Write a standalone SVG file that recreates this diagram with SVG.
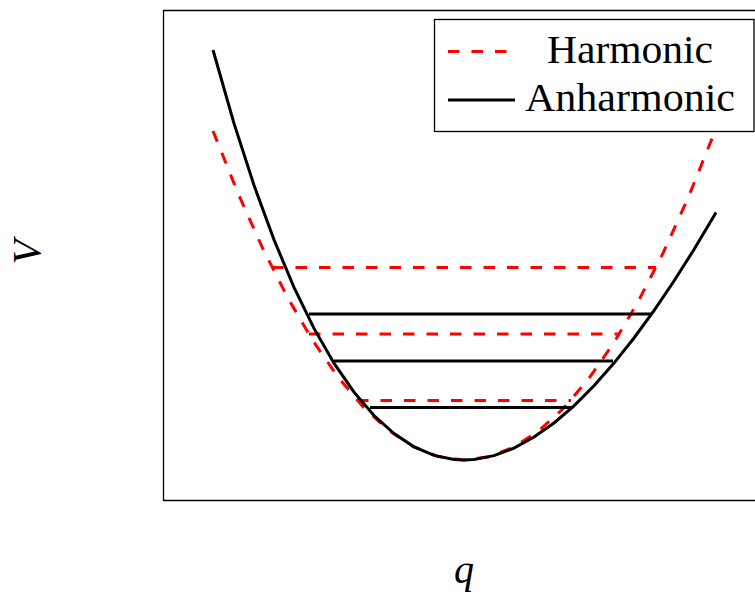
<svg xmlns="http://www.w3.org/2000/svg" width="755" height="599" viewBox="0 0 755 599">
<style>
.harm{fill:none;stroke:#ff0000;stroke-width:3;stroke-dasharray:11.5 12}
.anh{fill:none;stroke:#000;stroke-width:3}
.frame{fill:none;stroke:#000;stroke-width:1.3}
.lbl{font-family:'Liberation Serif','DejaVu Serif',serif;font-size:40px;fill:#000}
.ax{font-family:'Liberation Serif','DejaVu Serif',serif;font-size:40px;font-style:italic;fill:#000}
</style>
<rect width="755" height="599" fill="#fff"/>
<path class="frame" d="M760 10.5H163.5V500.5H760"/>
<g id="connectors">
<polyline id="harmonic-curve" class="harm" points="213,131.0 238,193.3 263,249.0 288,298.2 313,340.9 338,377.1 363,406.7 388,429.8 413,446.4 438,456.5 463,460 488,457.0 513,447.5 538,431.4 563,408.8 588,379.7 613,344.1 638,301.9 663,253.2 688,198.0 713,136.2"/>
<line class="harm" x1="272" y1="267.5" x2="656" y2="267.5"/>
<line class="harm" x1="309" y1="334" x2="619" y2="334"/>
<line class="harm" x1="357" y1="400.5" x2="571" y2="400.5"/>
<polyline id="anharmonic-curve" class="anh" points="213,50.0 234,123.4 254,185.3 274,239.8 294,287.4 314,328.4 334,363.2 354,392.1 374,415.5 394,433.6 414,446.8 434,455.4 454,459.5 464,460 474,459.5 494,455.6 514,448.1 534,437.1 554,423.0 574,405.8 594,385.7 614,363.1 634,338.0 654,310.6 674,281.0 694,249.5 716,212.6"/>
<line class="anh" x1="309" y1="314" x2="651" y2="314"/>
<line class="anh" x1="334" y1="361" x2="613" y2="361"/>
<line class="anh" x1="370" y1="407.5" x2="571" y2="407.5"/>
</g>
<g id="legend">
<rect x="434.5" y="19.5" width="319.5" height="112" fill="#fff" stroke="#000" stroke-width="1.3"/>
<line class="harm" x1="448" y1="51.5" x2="508" y2="51.5"/>
<text class="lbl" x="547" y="63" textLength="166" lengthAdjust="spacingAndGlyphs">Harmonic</text>
<line class="anh" x1="448" y1="100" x2="515" y2="100"/>
<text class="lbl" x="525" y="111" textLength="210" lengthAdjust="spacingAndGlyphs">Anharmonic</text>
</g>
<g id="axis-labels">
<text class="ax" x="0" y="0" text-anchor="middle" transform="translate(40,252) rotate(-90)">V</text>
<text class="ax" x="464" y="583" text-anchor="middle">q</text>
</g>
</svg>
